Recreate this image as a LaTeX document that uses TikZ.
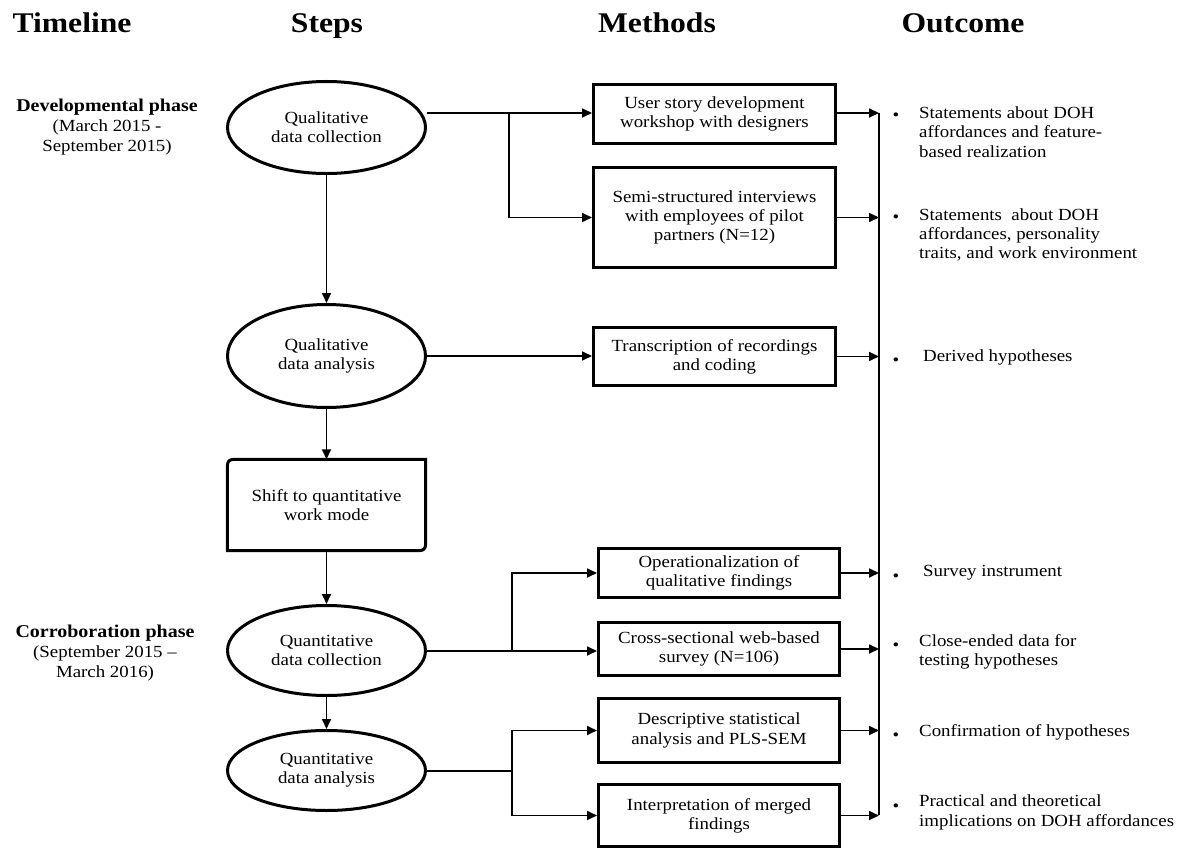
\documentclass[tikz,border=0pt]{standalone}
\usepackage{fontspec}
\setmainfont{Liberation Serif}[FakeStretch=1.11]
\usetikzlibrary{shapes.geometric,arrows.meta,calc}
\begin{document}
\begin{tikzpicture}[x=1pt,y=-1pt,
  every node/.style={font=\fontsize{17}{19.2}\selectfont},
  hdr/.style={font=\fontsize{28.5}{31}\selectfont\bfseries, anchor=base, inner sep=0pt},
  phase/.style={align=center, inner sep=0pt, font=\fontsize{17}{20}\selectfont},
  stepell/.style={ellipse, draw, line width=3pt, minimum width=198pt, align=center, inner sep=0pt},
  mbox/.style={draw, line width=3pt, align=center, inner sep=0pt},
  outc/.style={anchor=west, align=left, inner sep=0pt},
  bul/.style={inner sep=0pt, anchor=base},
  conn/.style={line width=1.7pt},
  arr/.style={line width=1.7pt, -{Triangle[length=10pt,width=9pt]}}
]
\useasboundingbox (0,0) rectangle (1180,850);

% headers
\node[hdr] (hT) at (72,33) {Timeline};
\node[hdr] (hS) at (327,33) {Steps};
\node[hdr] (hM) at (657,33) {Methods};
\node[hdr] (hO) at (963,33) {Outcome};

% timeline
\node[phase] (tl1) at (107,127) {{\fontsize{18}{20}\selectfont\bfseries Developmental phase}\\(March 2015 -\\September 2015)};
\node[phase] (tl2) at (105,653) {{\fontsize{18}{20}\selectfont\bfseries Corroboration phase}\\(September 2015 –\\March 2016)};

% steps
\node[stepell, minimum height=92pt] (e1) at (326.5,127.5) {Qualitative\\data collection};
\node[stepell, minimum height=103pt] (e2) at (326.5,356) {Qualitative\\data analysis};
\node[minimum width=198pt, minimum height=91pt, align=center, inner sep=0pt] (shift) at (326.5,505) {Shift to quantitative\\work mode};
\draw[line width=3pt] (shift.south west) -- ($(shift.north west)+(0,13)$) .. controls (shift.north west) .. ($(shift.north west)+(13,0)$) -- (shift.north east) -- ($(shift.south east)+(0,-13)$) .. controls (shift.south east) .. ($(shift.south east)+(-13,0)$) -- cycle;
\node[stepell, minimum height=90pt] (e3) at (326.5,650.5) {Quantitative\\data collection};
\node[stepell, minimum height=80pt] (e4) at (326.5,770.5) {Quantitative\\data analysis};

% methods
\node[mbox, minimum width=242pt, minimum height=59pt] (b1) at (714.5,114) {User story development\\workshop with designers};
\node[mbox, minimum width=242pt, minimum height=100pt] (b2) at (714.5,217.5) {Semi-structured interviews\\with employees of pilot\\partners (N=12)};
\node[mbox, minimum width=242pt, minimum height=58pt] (b3) at (714.5,356.5) {Transcription of recordings\\and coding};
\node[mbox, minimum width=241pt, minimum height=49pt] (b4) at (719,573) {Operationalization of\\qualitative findings};
\node[mbox, minimum width=241pt, minimum height=53pt] (b5) at (719,649) {Cross-sectional web-based\\survey (N=106)};
\node[mbox, minimum width=241pt, minimum height=64pt] (b6) at (719,730.5) {Descriptive statistical\\analysis and PLS-SEM};
\node[mbox, minimum width=241pt, minimum height=62pt] (b7) at (719,815.5) {Interpretation of merged\\findings};

% outcomes
\node[outc] (o1) at (919,132) {Statements about DOH\\affordances and feature-\\based realization};
\node[outc] (o2) at (919,235) {Statements\ \ about DOH\\affordances, personality\\traits, and work environment};
\node[outc] (o3) at (923,357) {Derived hypotheses};
\node[outc] (o4) at (923,573) {Survey instrument};
\node[outc] (o5) at (919,651.5) {Close-ended data for\\testing hypotheses};
\node[outc] (o6) at (919,732) {Confirmation of hypotheses};
\node[outc] (o7) at (919,812.5) {Practical and theoretical\\implications on DOH affordances};
\node[bul] (u1) at (896,121) {•};
\node[bul] (u2) at (896,223) {•};
\node[bul] (u3) at (896,365) {•};
\node[bul] (u4) at (896,581) {•};
\node[bul] (u5) at (896,650) {•};
\node[bul] (u6) at (896,740) {•};
\node[bul] (u7) at (896,811) {•};

% vertical step arrows
\draw[arr] (e1.south) -- (e2.north);
\draw[arr] (e2.south) -- (shift.north);
\draw[arr] (shift.south) -- (e3.north);
\draw[arr] (e3.south) -- (e4.north);

% steps to methods
\coordinate (j1) at (509,113);
\draw[arr] (e1.east |- j1) -- (j1 -| b1.west);
\draw[arr] (j1) |- (b2.west);
\draw[arr] (e2.east) -- (e2.east -| b3.west);
\coordinate (j3) at (512,651);
\draw[arr] (e3.east |- j3) -- (j3 -| b5.west);
\draw[arr] (j3) |- (b4.west);
\coordinate (j4) at (512,771);
\draw[conn] (e4.east |- j4) -- (j4);
\draw[arr] (j4) |- (b6.west);
\draw[arr] (j4) |- (b7.west);

% bus
\coordinate (bustop) at (879,113);
\coordinate (busbot) at (879,815);
\draw[conn] (bustop) -- (busbot);
\draw[arr] (b1.east |- bustop) -- (bustop);
\draw[arr] (b2.east) -- (b2.east -| bustop);
\draw[arr] (b3.east) -- (b3.east -| bustop);
\draw[arr] (b4.east) -- (b4.east -| bustop);
\draw[arr] (b5.east) -- (b5.east -| bustop);
\draw[arr] (b6.east) -- (b6.east -| bustop);
\draw[arr] (b7.east) -- (b7.east -| bustop);
\end{tikzpicture}
\end{document}
